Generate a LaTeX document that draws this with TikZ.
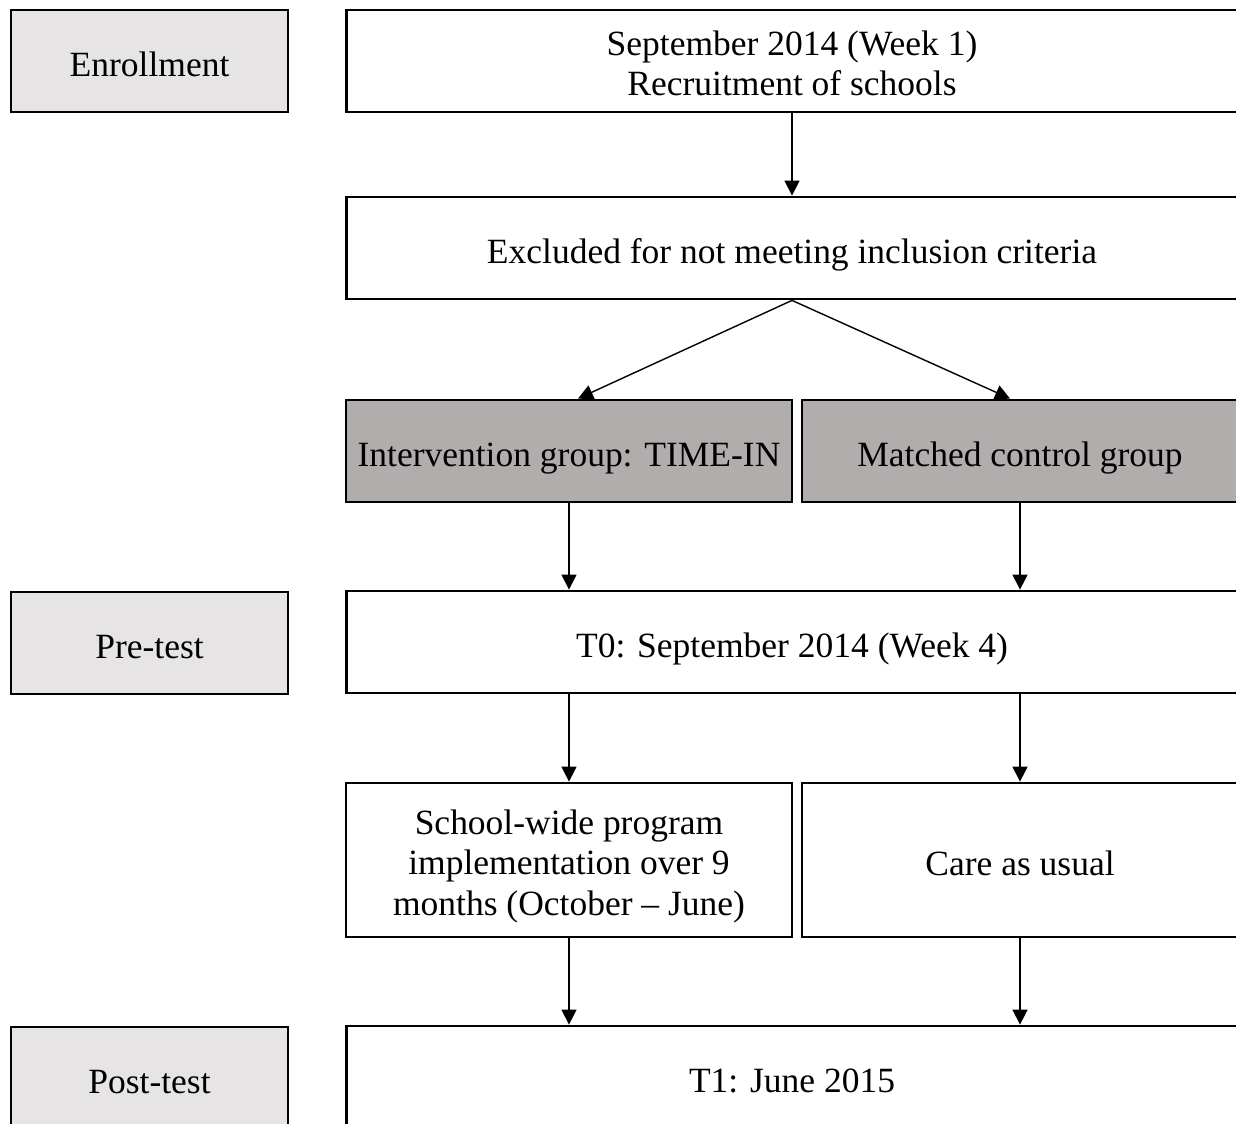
\documentclass[tikz,border=0pt]{standalone}
\usepackage{fontspec}
\setmainfont{Liberation Serif}
\usetikzlibrary{arrows.meta,calc}
\definecolor{lightbox}{HTML}{E6E4E5}
\definecolor{darkbox}{HTML}{B0ADAC}
\newcommand\firstline{\rule[-5pt]{0pt}{26.6pt}}
\begin{document}
\begin{tikzpicture}[x=0.02cm,y=-0.02cm,
  box/.style={draw=black,line width=1.6pt,rectangle,align=center,inner sep=0pt,
    font=\fontsize{20.2}{23}\selectfont,minimum height=2.04cm,
    execute at begin node={\rule[-5pt]{0pt}{28pt}},
    execute at end node={\rule[-5pt]{0pt}{10pt}}},
  stage/.style={box,fill=lightbox,minimum width=5.54cm},
  wide/.style={box,fill=white,minimum width=17.84cm},
  lefthalf/.style={box,minimum width=8.92cm},
  righthalf/.style={box,minimum width=8.72cm},
  arr/.style={draw=black,line width=0.8pt,-{Triangle[width=0.3cm,length=0.3cm]}}]
\useasboundingbox (0,0) rectangle (1236,1124);
\clip (0,0) rectangle (1236,1124);
\node[stage] (enr) at (149.5,61) {Enrollment};
\node[wide] (rec) at (792,61) {\firstline September 2014 (Week 1)\\Recruitment of schools};
\node[wide] (exc) at (792,248) {Excluded for not meeting inclusion criteria};
\node[lefthalf,fill=darkbox] (int) at (569,451) {Intervention group: TIME-IN};
\node[righthalf,fill=darkbox] (mat) at (1020,451) {Matched control group};
\node[stage] (pre) at (149.5,643) {Pre-test};
\node[wide] (t0) at (792,642) {T0: September 2014 (Week 4)};
\node[lefthalf,fill=white,minimum height=3.08cm] (sw) at (569,860) {\firstline School-wide program\\implementation over 9\\months (October -- June)};
\node[righthalf,fill=white,minimum height=3.08cm] (care) at (1020,860) {Care as usual};
\node[stage] (post) at (149.5,1078) {Post-test};
\node[wide] (t1) at (792,1077) {T1: June 2015};
\draw[arr] (rec.south) -- (exc.north);
\draw[arr] (exc.south) -- ([xshift=0.18cm]int.north);
\draw[arr] (exc.south) -- ([xshift=-0.2cm]mat.north);
\draw[arr] (int.south) -- (int.south |- t0.north);
\draw[arr] (mat.south) -- (mat.south |- t0.north);
\draw[arr] (t0.south -| int.south) -- (sw.north);
\draw[arr] (t0.south -| mat.south) -- (care.north);
\draw[arr] (sw.south) -- (sw.south |- t1.north);
\draw[arr] (care.south) -- (care.south |- t1.north);
\end{tikzpicture}
\end{document}
